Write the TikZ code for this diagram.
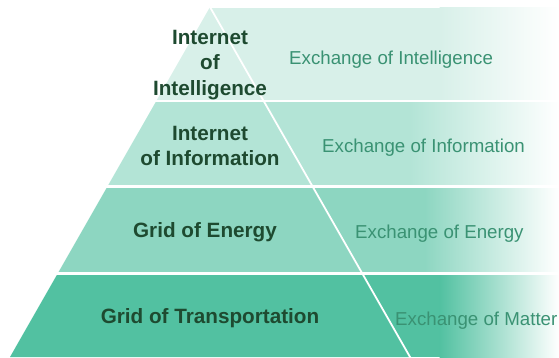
\documentclass[tikz,border=0pt]{standalone}
\usepackage{fontspec}
\setmainfont{Liberation Sans}
\definecolor{cA}{HTML}{D8F0E9}
\definecolor{cB}{HTML}{B3E4D6}
\definecolor{cC}{HTML}{8DD6C1}
\definecolor{cD}{HTML}{52C1A1}
\definecolor{leftTxt}{HTML}{1E4A30}
\definecolor{rightTxt}{HTML}{3A9273}
\tikzset{
  lefttext/.style={font=\fontsize{20.7}{25.5}\selectfont\bfseries, text=leftTxt, align=center, inner sep=0pt},
  righttext/.style={font=\fontsize{18.7}{22}\selectfont, text=rightTxt, inner sep=0pt, anchor=base west},
  gap/.style={draw=white, line width=2.4pt},
}
\begin{document}
\begin{tikzpicture}[x=1pt,y=-1pt]
\useasboundingbox (0,0) rectangle (559,358);
% bands: solid then fading to white
\fill[cA] (210,8) rectangle (440,101);
\shade[left color=cA, right color=white] (439.5,8) rectangle (559,101);
\fill[cB] (210,101) rectangle (410,186.5);
\shade[left color=cB, right color=white] (409.5,101) rectangle (559,186.5);
\fill[cC] (210,186.5) rectangle (425,273.5);
\shade[left color=cC, right color=white] (424.5,186.5) rectangle (559,273.5);
\fill[cD] (210,273.5) rectangle (440,357);
\shade[left color=cD, right color=white] (439.5,273.5) rectangle (559,357);
% pyramid tiers
\fill[cA] (210,7) -- (263.7,101) -- (156.3,101) -- cycle;
\fill[cB] (156.3,101) -- (263.7,101) -- (312.6,186.5) -- (107.4,186.5) -- cycle;
\fill[cC] (107.4,186.5) -- (312.6,186.5) -- (362.3,273.5) -- (57.7,273.5) -- cycle;
\fill[cD] (57.7,273.5) -- (362.3,273.5) -- (410,357) -- (10,357) -- cycle;
% white separators
\coordinate (apex) at (209.4,6);
\coordinate (foot) at (410.6,358);
\draw[white, line width=1.8pt] (apex) -- (foot);
\draw[gap] (0,101) -- (559,101);
\draw[gap] (0,186.5) -- (559,186.5);
\draw[gap] (0,273.5) -- (559,273.5);
% left labels
\node[lefttext] (l1) at (210,65) {Internet\\of\\Intelligence};
\node[lefttext] (l2) at (210,146) {Internet\\of Information};
\node[lefttext, anchor=base] (l3) at (205,237) {Grid of Energy};
\node[lefttext, anchor=base] (l4) at (210,323) {Grid of Transportation};
% right labels
\node[righttext] (r1) at (289,65) {Exchange of Intelligence};
\node[righttext] (r2) at (322,153) {Exchange of Information};
\node[righttext] (r3) at (355,238) {Exchange of Energy};
\node[righttext] (r4) at (395,325) {Exchange of Matter};
\end{tikzpicture}
\end{document}
